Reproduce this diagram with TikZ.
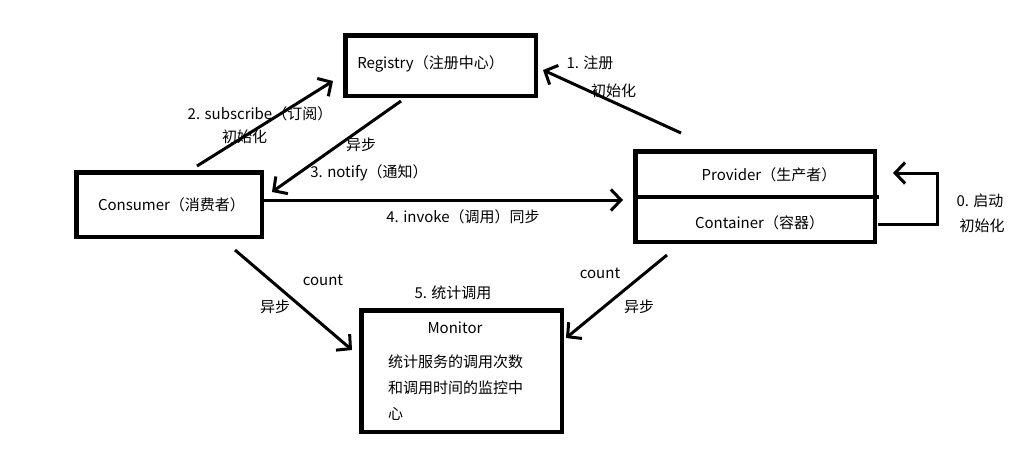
\documentclass[tikz,border=0pt]{standalone}
\usepackage{fontspec}
\setmainfont{Noto Sans CJK SC}
\usetikzlibrary{arrows.meta}

\begin{document}
\begin{tikzpicture}[x=1pt,y=-1pt]
  \tikzstyle{boite}=[draw, line width=4.5pt, inner sep=0, outer sep=0];
  \tikzstyle{texte}=[inner sep=0, font=\fontsize{15}{18}\selectfont];
  \tikzstyle{fleche}=[line width=3pt, -{Straight Barb[length=10pt,width=21pt,line width=3pt]}];

  \useasboundingbox (0,0) rectangle (1016,455);

  \node[boite, minimum width=190.5pt, minimum height=60.5pt] (registry) at (440.5,65.5) {};
  \node[boite, minimum width=185.5pt, minimum height=64.5pt] (consumer) at (169,204.5) {};
  \node[boite, minimum width=239.5pt, minimum height=90.5pt] (provider) at (755,196.5) {};
  \node[boite, minimum width=200.5pt, minimum height=121.5pt] (monitor) at (461.5,371) {};

  \coordinate (divG) at (provider.west |- 0,197);
  \coordinate (divD) at (879,197);
  \draw[line width=4.5pt] (divG) -- (divD);

  \coordinate (subA) at (197,166);
  \coordinate (subB) at (333,81);
  \coordinate (notA) at (401,101);
  \coordinate (notB) at (272,192);
  \coordinate (regA) at (681,133);
  \coordinate (regB) at (543,70);
  \coordinate (invA) at (consumer.east |- 0,200);
  \coordinate (invB) at (623,200);
  \coordinate (bouA) at (878,224);
  \coordinate (bouB) at (937,224);
  \coordinate (bouC) at (937,173);
  \coordinate (bouD) at (893,173);
  \coordinate (conA) at (235,250);
  \coordinate (conB) at (352,350);
  \coordinate (proA) at (667,255);
  \coordinate (proB) at (566,338);

  \draw[fleche] (subA) -- (subB);
  \draw[fleche] (notA) -- (notB);
  \draw[fleche] (regA) -- (regB);
  \draw[fleche] (invA) -- (invB);
  \draw[fleche] (bouA) -- (bouB) -- (bouC) -- (bouD);
  \draw[fleche] (conA) -- (conB);
  \draw[fleche] (proA) -- (proB);

  \node[texte] (tRegistry) at (430.5,64) {Registry（注册中心）};
  \node[texte] (tConsumer) at (171.5,205) {Consumer（消费者）};
  \node[texte] (tProvider) at (769,175) {Provider（生产者）};
  \node[texte] (tContainer) at (759.5,223) {Container（容器）};
  \node[texte] (tMonitor) at (455,328) {Monitor};
  \node[texte, anchor=west, align=left, font=\fontsize{15}{26}\selectfont] (tStat) at (388,388)
    {统计服务的调用次数\\和调用时间的监控中\\心};

  \node[texte] (lSub) at (260,114) {2. subscribe（订阅）};
  \node[texte] (lSubInit) at (244.5,137) {初始化};
  \node[texte] (lNotAsync) at (361,145) {异步};
  \node[texte] (lNot) at (369,173) {3. notify（通知）};
  \node[texte] (lReg) at (590,63) {1. 注册};
  \node[texte] (lRegInit) at (613.5,91) {初始化};
  \node[texte] (lInv) at (463,217) {4. invoke（调用）同步};
  \node[texte] (lStart) at (980,201) {0. 启动};
  \node[texte] (lStartInit) at (982,226) {初始化};
  \node[texte] (lCountG) at (323,280) {count};
  \node[texte] (lAsyncG) at (275,307) {异步};
  \node[texte] (lStatCall) at (453,293) {5. 统计调用};
  \node[texte] (lCountD) at (600,273) {count};
  \node[texte] (lAsyncD) at (639,307) {异步};
\end{tikzpicture}
\end{document}
